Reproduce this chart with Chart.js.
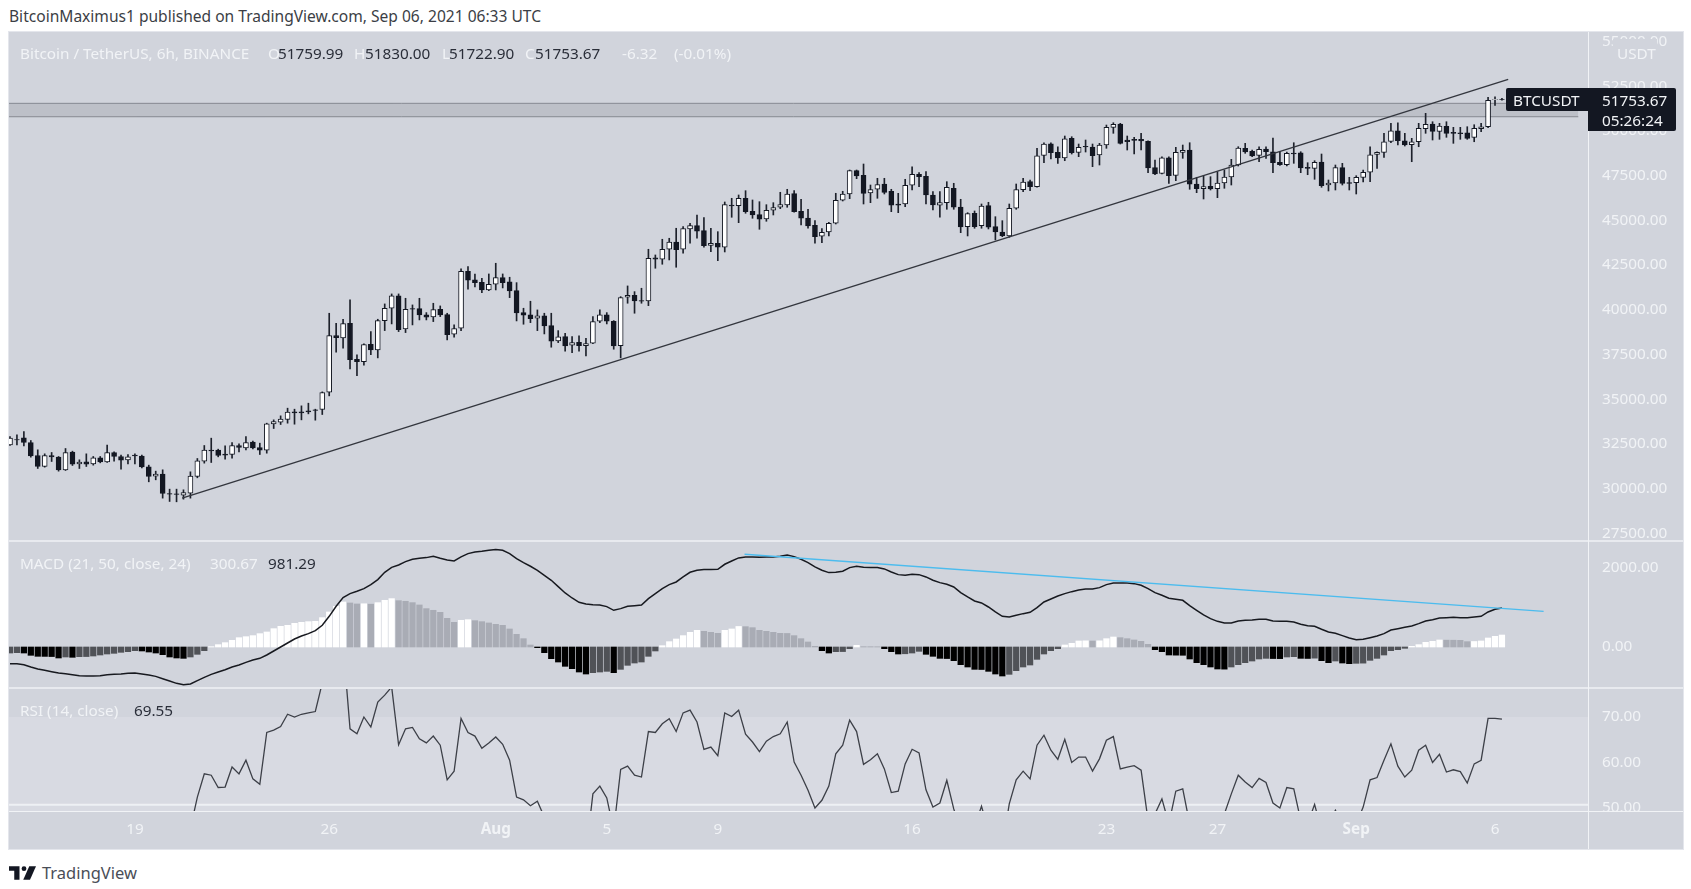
<!DOCTYPE html>
<html>
<head>
<meta charset="utf-8">
<title>BTCUSDT</title>
<script src="https://cdn.jsdelivr.net/npm/chart.js@4"></script>
<style>
html,body{margin:0;padding:0;background:#fff;width:1691px;height:889px;overflow:hidden;font-family:"Noto Sans",sans-serif}
canvas{position:absolute;left:9px;z-index:1}
.t{position:absolute;white-space:pre;line-height:20px;font-size:15.3px;color:#f1f3f6;z-index:5}
.d{color:#2a2e39}
.box{position:absolute;z-index:4}
</style>
</head>
<body>
<div class="t" style="left:9px;top:6px;color:#3b3e45;font-size:15.57px">BitcoinMaximus1 published on TradingView.com, Sep 06, 2021 06:33 UTC</div>
<div class="box" style="left:9px;top:32px;width:1674px;height:817px;background:#d1d4dc;z-index:0;box-shadow:0 0 0 1px #e4e6ec"></div>
<div class="box" style="left:9px;top:540px;width:1674px;height:2px;background:#e8eaef"></div>
<div class="box" style="left:9px;top:687px;width:1674px;height:2px;background:#e8eaef"></div>
<div class="box" style="left:9px;top:811px;width:1674px;height:1px;background:#f1f3f6"></div>
<div class="box" style="left:1588px;top:32px;width:1px;height:817px;background:#f1f3f6"></div>
<div class="box" style="left:1589px;top:812px;width:94px;height:37px;background:#d1d4dc"></div>

<div class="t" style="left:20px;top:43px">Bitcoin / TetherUS, 6h, BINANCE</div>
<div class="t" style="left:268px;top:43px">O</div><div class="t d" style="left:278px;top:43px">51759.99</div>
<div class="t" style="left:354px;top:43px">H</div><div class="t d" style="left:365px;top:43px">51830.00</div>
<div class="t" style="left:442px;top:43px">L</div><div class="t d" style="left:449px;top:43px">51722.90</div>
<div class="t" style="left:525px;top:43px">C</div><div class="t d" style="left:535px;top:43px">51753.67</div>
<div class="t" style="left:622px;top:43px">-6.32</div>
<div class="t" style="left:674px;top:43px">(-0.01%)</div>

<div class="box" style="left:1613px;top:39px;width:44px;height:24px;background:#d1d4dc"></div>
<div class="t" style="left:1617px;top:43px">USDT</div>

<div class="box" style="left:1506px;top:88px;width:82px;height:23px;background:#131722;border-radius:2px 0 0 2px"></div>
<div class="box" style="left:1588px;top:88px;width:88px;height:43px;background:#131722;border-radius:0 2px 2px 0"></div>
<div class="t" style="left:1513px;top:90px">BTCUSDT</div>
<div class="t" style="left:1602px;top:90px">51753.67</div>
<div class="t" style="left:1602px;top:110px">05:26:24</div>

<div class="t" style="left:20px;top:553px">MACD (21, 50, close, 24)</div>
<div class="t" style="left:210px;top:553px">300.67</div>
<div class="t d" style="left:268px;top:553px">981.29</div>
<div class="t" style="left:20px;top:700px">RSI (14, close)</div>
<div class="t d" style="left:134px;top:700px">69.55</div>

<svg style="position:absolute;left:9px;top:866px" width="27" height="14" viewBox="0 0 36 18"><path fill="#131722" d="M14 0H0v6h7v12h7z"/><circle fill="#131722" cx="20" cy="3.2" r="3.2"/><path fill="#131722" d="M27 0h9l-8 18h-9z"/></svg>
<div class="t" style="left:42px;top:863px;color:#4a4e57;font-size:16.5px">TradingView</div>

<canvas id="main" width="1674" height="509" style="top:32px"></canvas>
<canvas id="macd" width="1674" height="147" style="top:541px"></canvas>
<canvas id="rsi" width="1674" height="161" style="top:688px"></canvas>

<script>
const opens = [
32448,32740,32840,32578,31852,31237,31852,31759,31051,32038,
31386,31498,31386,31722,31498,32020,31796,31610,31871,31815,
31219,30697,30809,29728,29710,29635,29747,30678,31535,32150,
32150,31927,31908,32411,32280,32597,32299,32150,33622,33715,
33864,34293,34293,34349,34404,34423,35392,38559,38428,39248,
37236,37106,38074,37758,39397,40086,40776,38931,40068,40068,
39714,39602,40030,39732,38633,38970,42156,41670,41541,41111,
41430,41799,41558,41072,39842,39714,39529,39658,39115,38260,
38500,38020,38188,37997,38131,39361,39713,39361,37997,40703,
40815,40513,40496,42900,42827,43386,43794,43386,44521,44705,
44426,43599,43721,43498,45862,45824,46237,45510,45320,45080,
45566,45734,45862,46494,45510,45136,44728,44113,44353,44840,
46125,46477,47780,47523,46533,46740,47036,46628,45918,45918,
46964,47579,47467,46421,45846,45991,46796,45751,44649,45399,
44705,45824,44649,44353,44130,45678,46718,47165,46885,48640,
49289,48808,48490,49591,48808,49144,49105,48658,49216,50206,
50390,49496,49535,49535,49423,47948,47634,48506,47522,48808,
48937,47036,46774,46908,46774,47092,47428,48098,49032,48864,
48640,48993,48842,48249,48115,48769,48786,47970,47914,48266,
46981,47092,47948,47109,47109,47411,47691,48696,48808,49423,
50016,49457,49233,49401,50128,50390,49982,50262,49927,49904,
49904,49647,50128,50240,51750,51759.99];
const closes = [
32821,32720,32578,31833,31237,31852,31777,31051,32020,31368,
31479,31368,31722,31498,32020,31796,31591,31777,31833,31219,
30678,30809,29728,29691,29672,29784,30697,31554,32150,32113,
31852,31871,32411,32299,32578,32280,32150,33622,33752,33883,
34274,34237,34237,34293,34367,35373,38559,38447,39229,37218,
37106,38056,37758,39397,40086,40776,38894,40030,40030,39714,
39583,40012,39714,38615,38950,42156,41653,41519,41111,41430,
41799,41519,41055,39825,39696,39507,39658,39098,38243,38484,
37981,38166,37997,38109,39339,39713,39361,37981,40680,40815,
40496,40479,42883,42827,43386,43794,43364,44538,44705,44392,
43587,43721,43498,45879,45807,46237,45488,45304,45063,45566,
45712,45879,46477,45488,45119,44689,44090,44336,44840,46125,
46477,47780,47483,46516,46718,46997,46572,45846,45846,46964,
47579,47444,46421,45862,45991,46852,45734,44633,45376,44649,
45807,44616,44353,44147,45678,46718,47148,46885,48618,49272,
48786,48490,49569,48786,49088,49105,48618,49216,50206,50374,
49311,49401,49479,49440,47931,47595,48506,47500,48808,48920,
47020,46774,46886,46757,47092,47428,48098,49049,48825,48602,
48976,48842,48227,48115,48752,48713,47931,47914,48249,46941,
47092,47948,47075,47075,47411,47691,48674,48808,49401,50016,
49457,49217,49401,50150,50374,49982,50279,49871,49871,49848,
49591,50150,50240,51715,51760,51753.67];
const highs = [
32914,33007,33193,32690,32169,31945,32020,31796,32243,32094,
31610,31945,31796,31796,32430,32057,31871,31908,31945,31871,
31312,30976,31051,29970,29970,29933,30939,31684,32411,32821,
32206,32392,32578,32504,32914,32653,32541,33659,33845,34069,
34498,34442,34628,34777,34442,35410,39807,39248,39472,40552,
37478,38093,38782,39472,40329,40888,40888,40645,40273,40645,
39844,40366,40217,39807,39155,42285,42414,42005,41765,42005,
42603,42005,41821,41519,40088,40479,39993,39808,39808,38836,
38690,38500,38540,38411,39619,39993,39842,39395,40736,41335,
41016,41206,43386,43067,43945,44001,44560,44650,44840,45304,
45153,44560,44370,46030,46237,46422,46662,46142,46047,45879,
45991,46573,46740,46662,46181,45622,44985,44538,44896,46517,
46628,47819,47819,48154,46980,47355,47355,46740,46516,47299,
48003,47668,47724,46606,46606,47165,47076,46181,45432,45527,
45918,46013,45208,44985,45918,47036,47355,47260,49032,49345,
49345,49121,49720,49680,49272,49496,49272,49311,50334,50463,
50429,49720,49647,49871,49457,48378,48562,48562,49088,49216,
49345,47411,47484,47445,47724,47819,48417,49121,49311,48937,
49121,49121,49608,48842,48825,49345,48842,48227,48339,48713,
47260,48098,48193,47411,47500,47819,49121,48842,49871,50429,
50463,49871,49591,50429,50988,50519,50429,50519,50206,50206,
50240,50351,50429,51883,51917,51830];
const lows = [
32411,32448,32392,31759,31126,31200,31517,30976,31014,31293,
31125,31237,31312,31442,31461,31535,31088,31386,31386,31163,
30380,30492,29467,29281,29262,29411,29467,30604,31424,31461,
31777,31647,31703,32057,32169,32225,31908,31982,33361,33585,
33659,33603,33845,34181,33827,34144,35187,37627,37851,36696,
36323,36901,37497,37311,38838,39211,38782,38726,39155,39434,
39434,39341,39621,38317,38466,38836,41150,41279,40960,41072,
41111,41223,40681,39378,39193,39283,38836,38651,37908,38165,
37684,37606,37684,37421,38109,39282,39210,37796,37310,40367,
39808,40367,40233,42324,42548,42788,42380,43163,43722,44001,
43498,43252,42749,43235,45175,44873,45399,45119,44504,44951,
45304,45656,45734,45454,44744,44560,43722,43755,44130,44800,
46086,46215,47333,45918,45991,46237,46477,45488,45432,45768,
46701,46885,45918,45583,45175,45622,45622,44314,44130,44560,
44560,44521,43906,44090,44057,45622,46606,46662,46852,48227,
48434,48193,48339,48713,48563,48825,48004,48098,49032,49871,
49272,48937,48713,48937,47668,47556,47595,47075,47221,48473,
46740,46550,46198,46701,46271,46796,46980,48043,48752,48563,
48283,48473,47668,48081,48043,48193,47668,47556,47299,46852,
46645,46701,46980,46701,46477,47148,47165,47914,48529,49345,
49217,49161,48283,49121,49871,49496,49535,49647,49311,49535,
49535,49400,49960,50183,51435,51722.9];

const macdLine = [
-418,-418,-444,-502,-552,-586,-619,-653,-670,-695,
-720,-728,-728,-720,-695,-686,-678,-661,-653,-678,
-703,-737,-795,-854,-912,-946,-929,-845,-762,-686,
-628,-569,-502,-452,-385,-326,-285,-201,-100,0,
100,201,276,335,410,544,770,1021,1239,1339,
1398,1465,1565,1691,1875,2000,2059,2143,2201,2226,
2243,2277,2226,2185,2159,2260,2344,2385,2402,2427,
2444,2427,2344,2218,2118,2026,1925,1800,1674,1515,
1356,1230,1122,1080,1063,1055,1013,921,963,1021,
1038,1055,1214,1339,1465,1565,1632,1758,1875,1925,
1942,1942,1950,2076,2159,2235,2260,2260,2252,2260,
2260,2277,2310,2268,2201,2118,2009,1925,1867,1875,
1900,1992,2026,2000,1992,1992,1959,1883,1816,1800,
1825,1816,1758,1674,1615,1574,1507,1364,1256,1155,
1105,1004,879,770,753,795,837,870,988,1130,
1205,1281,1339,1389,1431,1456,1456,1490,1565,1607,
1607,1607,1590,1548,1465,1364,1297,1222,1197,1172,
1038,921,804,711,644,603,603,653,670,678,
695,695,653,644,644,628,569,536,519,444,
377,343,285,226,184,193,234,276,335,427,
460,494,527,586,653,686,728,737,745,737,
737,753,770,879,946,981.29];

const macdHist = [
-151,-142,-151,-209,-234,-236,-240,-276,-251,-259,
-243,-240,-226,-201,-176,-159,-134,-117,-92,-100,
-126,-151,-193,-251,-276,-285,-251,-184,-92,8,
59,109,167,234,259,285,335,377,460,519,
544,594,619,636,644,737,879,1021,1130,1105,
1080,1085,1075,1113,1172,1214,1163,1147,1113,1055,
963,921,870,720,619,670,686,661,636,603,
569,544,452,318,209,50,-17,-142,-293,-377,
-485,-544,-628,-678,-644,-628,-611,-644,-561,-460,
-402,-377,-234,-100,33,134,201,285,368,419,
393,368,343,419,452,515,510,485,419,393,
368,343,340,285,209,126,17,-92,-151,-117,
-115,-42,42,8,7,6,-42,-117,-176,-170,
-151,-109,-184,-234,-285,-290,-343,-444,-502,-561,
-565,-611,-678,-728,-686,-594,-502,-452,-310,-176,
-92,-42,50,92,151,155,150,155,209,251,
234,209,176,142,67,-67,-117,-201,-205,-208,
-301,-393,-444,-502,-552,-556,-502,-444,-393,-352,
-301,-285,-290,-292,-251,-243,-285,-288,-280,-343,
-393,-352,-402,-418,-410,-405,-335,-285,-201,-92,
-67,-33,17,59,117,142,176,172,170,168,
134,138,151,226,268,300.67];

const rsiValues = [
42,41,40,35,30,33,33,30,36,34,
35,35,37,36,41,38,36,38,38,32,
28,29,24,24,24,25,45.5,52.4,57.5,57.2,
54.5,54.6,59,57.5,60.5,56.4,55.2,66.6,67.1,67.9,
70.6,70,70.6,70.9,71.2,77.5,88,87,86,67.4,
66.3,70,67.8,73.3,74.8,76.6,63.9,67.4,67.7,65.2,
64.3,65.8,63.8,56.2,58.1,69.7,66.6,65.8,63.1,64.3,
65.6,64,60.5,52.4,51.8,50.5,51.5,48,48,46,
44,43,41,40,53.1,54.8,52.2,45.1,58.5,59.2,
57.2,56.8,66.8,66.6,68.5,69.6,66.8,70.9,71.5,68.9,
62.9,63.4,61.5,70.9,70.1,71.5,66.2,64.5,62.4,64.7,
65.7,66.3,68.9,60.1,57.2,53.9,50,51.7,54.8,61.9,
63.8,69.3,66.8,59.6,60.6,61.9,58.6,53.4,53.7,59.7,
62.9,62.1,54,50.2,51.1,56.1,49.8,45,43,45.8,
50.4,45,43,41.4,50.9,56.2,58.1,56.4,63.8,66,
62.7,60.7,65.1,60,61.2,61.2,58.1,60.8,64.9,65.7,
58.6,59,59.3,58.3,47.3,48.7,52,46.5,53.7,54.2,
46.5,45,43.6,42.9,45,48.7,53.1,57.2,55.7,54.5,
56.5,55.6,51.1,50,54.5,54.2,47.3,46.5,50.8,45,
46.5,49.5,46.5,46.5,46.5,50.2,56.2,56.7,60.5,64.1,
59.2,56.8,58.3,62.7,63.8,60,61.8,57.9,58.4,58,
55.5,59.7,60.5,69.7,69.7,69.55];

const priceTicks = [27500,30000,32500,35000,37500,40000,42500,45000,47500,50000,52500,55000];
const macdTicks = [0,2000];
const rsiTicks = [50,60,70];
const timeTickBars = [18,46,70,86,102,130,158,174,194,214];
const timeTickLabels = ['19','26','Aug','5','9','16','23','27','Sep','6'];
const boldTimeLabels = ['Aug','Sep'];

const trendBars = [24.8,215.9];
const trendPrices = [29467,52889];
const zoneBars = [-0.144,226];
const zoneTop = [51547,51547];
const zoneBottom = [50798,50798];
const macdTrendBars = [105.85,221];
const macdTrendValues = [2327,896];
const rsiBandBars = [-1,228];
const rsiBandTop = [70,70];
const rsiBandBottom = [30,30];
const rsiMidLine = [50.7,50.7];

const X_MIN = -0.144, X_MAX = 227.4;
const AXIS_FONT = {family:'"Noto Sans"',size:15.3};
const TICK_COLOR = '#f1f3f6';
const DARK = '#131722';

function pairs(xs,ys){return xs.map((x,i)=>({x,y:ys[i]}));}
function rightAxis(min,max,ticks,fmt){
  return {
    type:'linear',position:'right',min,max,
    grid:{display:false,drawTicks:false},
    border:{display:false},
    afterBuildTicks(s){s.ticks=ticks.map(v=>({value:v}));},
    afterFit(s){s.width=95;s.paddingTop=0;s.paddingBottom=0;},
    ticks:{color:TICK_COLOR,font:AXIS_FONT,padding:14,autoSkip:false,callback:v=>Number(v).toFixed(2)}
  };
}
function hiddenX(){
  return {type:'linear',min:X_MIN,max:X_MAX,display:false,offset:false,grid:{display:false}};
}
function lineDs(data,color,width,order,extra){
  return Object.assign({type:'line',data,borderColor:color,borderWidth:width,pointRadius:0,tension:0,fill:false,order},extra||{});
}
const baseOpts = {
  responsive:false,animation:false,devicePixelRatio:1,
  layout:{padding:0},
  plugins:{legend:{display:false},tooltip:{enabled:false},title:{display:false}}
};

const barIdx = opens.map((_,i)=>i);

new Chart(document.getElementById('main'),{
  type:'bar',
  data:{datasets:[
    lineDs(pairs(zoneBars,zoneTop),'#868991',1,6,{fill:'+1',backgroundColor:'#bdc0c8'}),
    lineDs(pairs(zoneBars,zoneBottom),'#868991',1,5),
    {data:barIdx.map(i=>({x:i,y:[lows[i],highs[i]]})),backgroundColor:'#1d212b',barThickness:1,grouped:false,order:3},
    {data:barIdx.map(i=>({x:i,y:[opens[i],closes[i]]})),
      backgroundColor:barIdx.map(i=>closes[i]>=opens[i]?'#ffffff':DARK),
      borderColor:DARK,borderWidth:1,borderSkipped:false,barThickness:5,grouped:false,order:2},
    lineDs(pairs(trendBars,trendPrices),'#33363e',1.4,1)
  ]},
  options:Object.assign({},baseOpts,{scales:{x:hiddenX(),y:rightAxis(27070,55537,priceTicks)}})
});

new Chart(document.getElementById('macd'),{
  type:'bar',
  data:{datasets:[
    {data:barIdx.map(i=>({x:i,y:macdHist[i]})),
      backgroundColor:barIdx.map(i=>{
        const v=macdHist[i],p=i?macdHist[i-1]:v;
        if(v>=0) return v>=p?'#ffffff':'#a9acb5';
        return v<p?'#000000':'#505257';
      }),barThickness:5.6,grouped:false,order:3},
    lineDs(pairs(barIdx,macdLine),'#17191f',1.5,2),
    lineDs(pairs(macdTrendBars,macdTrendValues),'#4cbcee',1.3,1)
  ]},
  options:Object.assign({},baseOpts,{scales:{x:hiddenX(),y:rightAxis(-1029,2660,macdTicks)}})
});

new Chart(document.getElementById('rsi'),{
  type:'bar',
  data:{datasets:[
    lineDs(pairs(rsiBandBars,rsiBandTop),'rgba(0,0,0,0)',0,6,{fill:'+1',backgroundColor:'#d8dae2'}),
    lineDs(pairs(rsiBandBars,rsiBandBottom),'rgba(0,0,0,0)',0,5),
    lineDs(pairs(rsiBandBars,rsiMidLine),'#eef0f4',2,4),
    lineDs(pairs(barIdx,rsiValues),'#3c3f47',1.3,1)
  ]},
  options:Object.assign({},baseOpts,{scales:{
    x:{type:'linear',min:X_MIN,max:X_MAX,offset:false,position:'bottom',
      grid:{display:false,drawTicks:false},border:{display:false},
      afterBuildTicks(s){s.ticks=timeTickBars.map(v=>({value:v}));},
      afterFit(s){s.height=38;s.paddingLeft=0;s.paddingRight=0;},
      ticks:{color:TICK_COLOR,padding:9,autoSkip:false,maxRotation:0,minRotation:0,
        font(c){
          const l=timeTickLabels[timeTickBars.indexOf(c.tick&&c.tick.value)];
          return {family:'"Noto Sans"',size:15.3,weight:boldTimeLabels.includes(l)?'bold':'normal'};
        },
        callback:v=>timeTickLabels[timeTickBars.indexOf(v)]}},
    y:rightAxis(49.34,76.37,rsiTicks)
  }})
});
</script>
</body>
</html>
